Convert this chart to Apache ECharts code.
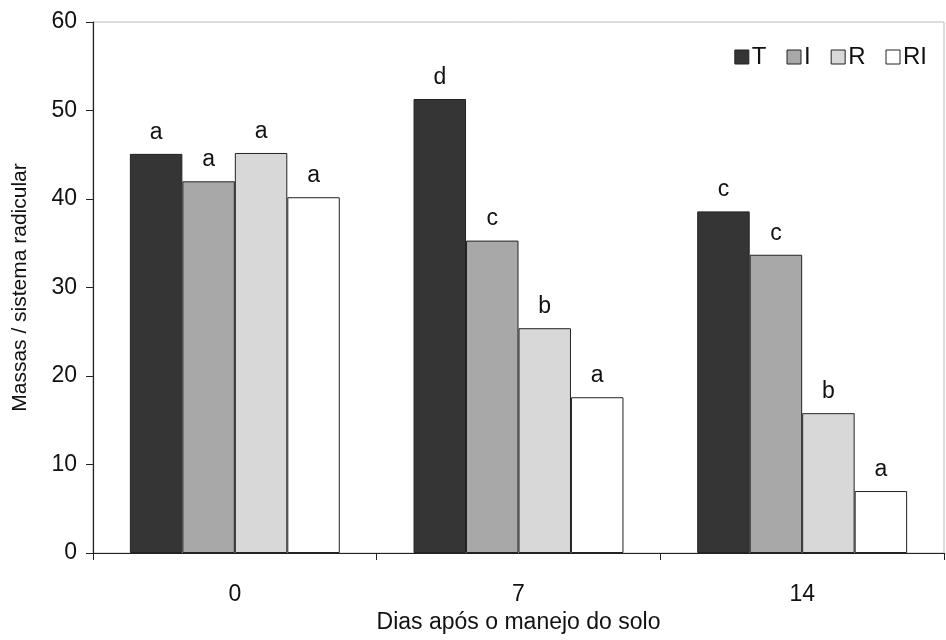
<!DOCTYPE html>
<html>
<head>
<meta charset="utf-8">
<script src="https://cdn.jsdelivr.net/npm/echarts@6/dist/echarts.min.js"></script>
<style>html,body{margin:0;padding:0;background:#fff;}#c{width:946px;height:640px;}</style>
</head>
<body>
<div id="c"></div>
<script>
var categories = ['0', '7', '14'];
var seriesNames = ['T', 'I', 'R', 'RI'];
var valuesT = [45.1, 51.3, 38.6];
var valuesI = [42.0, 35.3, 33.7];
var valuesR = [45.2, 25.4, 15.8];
var valuesRI = [40.2, 17.6, 7.0];
var lettersT = ['a', 'd', 'c'];
var lettersI = ['a', 'c', 'c'];
var lettersR = ['a', 'b', 'b'];
var lettersRI = ['a', 'a', 'a'];
var yTicks = [0, 10, 20, 30, 40, 50, 60];

var colors = ['#353535', '#a8a8a8', '#d8d8d8', '#ffffff'];
var allValues = [valuesT, valuesI, valuesR, valuesRI];
var allLetters = [lettersT, lettersI, lettersR, lettersRI];
var FONT = '"Liberation Sans", Arial, sans-serif';

var chart = echarts.init(document.getElementById('c'));
var series = seriesNames.map(function (name, i) {
  return {
    name: name,
    type: 'bar',
    data: allValues[i],
    barGap: '0%',
    barCategoryGap: '26%',
    itemStyle: { color: colors[i], borderColor: '#222', borderWidth: 1 },
    label: {
      show: true,
      position: 'top',
      distance: 10,
      fontFamily: FONT,
      fontSize: 23,
      color: '#111',
      formatter: function (p) { return allLetters[i][p.dataIndex]; }
    }
  };
});

chart.setOption({
  animation: false,
  backgroundColor: '#fff',
  legend: {
    data: seriesNames,
    right: 14,
    top: 40,
    itemWidth: 14,
    itemHeight: 14,
    itemGap: 20,
    icon: 'rect',
    textStyle: { fontFamily: FONT, fontSize: 24, color: '#111', padding: [0, 0, 0, -2] },
    itemStyle: { borderColor: '#222', borderWidth: 1 }
  },
  grid: { left: 93, right: 2, top: 22, bottom: 87, show: true, borderColor: '#bbb', borderWidth: 1 },
  xAxis: {
    type: 'category',
    data: categories,
    name: 'Dias após o manejo do solo',
    nameLocation: 'middle',
    nameGap: 58,
    nameTextStyle: { fontFamily: FONT, fontSize: 23, color: '#111' },
    axisLine: { lineStyle: { color: '#222', width: 1.2 } },
    axisTick: { show: true, alignWithLabel: false, length: 7, lineStyle: { color: '#222' } },
    axisLabel: { fontFamily: FONT, fontSize: 23, color: '#111', margin: 30 }
  },
  yAxis: {
    type: 'value',
    min: yTicks[0],
    max: yTicks[yTicks.length - 1],
    interval: 10,
    name: 'Massas / sistema radicular',
    nameLocation: 'middle',
    nameGap: 62,
    nameTextStyle: { fontFamily: FONT, fontSize: 21, color: '#111' },
    axisLine: { show: true, lineStyle: { color: '#222', width: 1.2 } },
    axisTick: { show: true, length: 7, lineStyle: { color: '#222' } },
    splitLine: { show: false },
    axisLabel: { fontFamily: FONT, fontSize: 23, color: '#111', margin: 16 }
  },
  series: series
});
</script>
</body>
</html>
